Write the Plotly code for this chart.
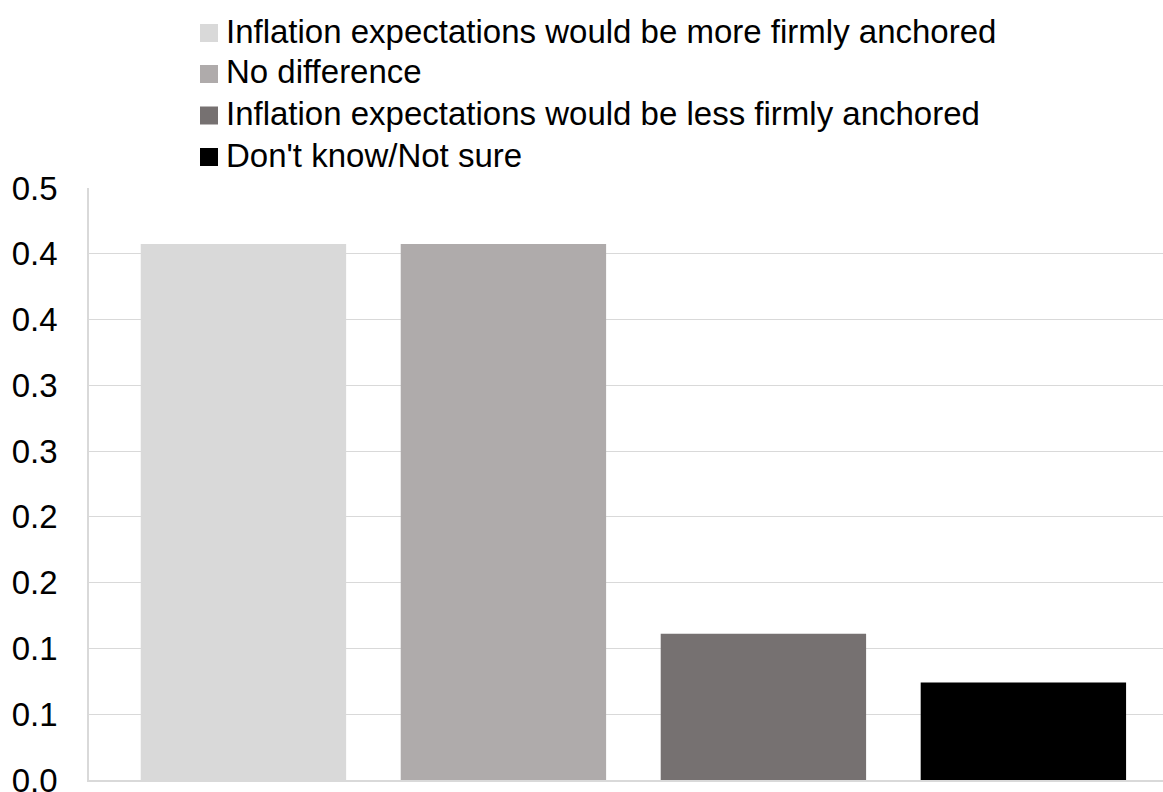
import plotly.graph_objects as go

# Survey responses (share of respondents)
categories = [
    "Inflation expectations would be more firmly anchored",
    "No difference",
    "Inflation expectations would be less firmly anchored",
    "Don't know/Not sure",
]
shares = [0.4074, 0.4074, 0.1111, 0.0741]
colors = ["#D9D9D9", "#AFABAB", "#767171", "#000000"]

tick_values = [0.0, 0.05, 0.10, 0.15, 0.20, 0.25, 0.30, 0.35, 0.40, 0.45]
tick_labels = ["0.0", "0.1", "0.1", "0.2", "0.2", "0.3", "0.3", "0.4", "0.4", "0.5"]

FONT = "Arial, 'Liberation Sans', sans-serif"

W, H = 1163, 792
ML, MR, MT, MB = 89, 0, 188, 12
plot_w = W - ML - MR
plot_h = H - MT - MB


def px_to_paper_x(px):
    return (px - ML) / plot_w


def px_to_paper_y(py):
    return (H - MB - py) / plot_h


fig = go.Figure()
for name, val, col in zip(categories, shares, colors):
    fig.add_trace(go.Bar(
        x=[name], y=[val], name=name,
        marker=dict(color=col, line=dict(width=0)),
        width=0.79, showlegend=False,
    ))

# Legend drawn as a stacked list of colour swatches with labels
row_centers = [33, 74, 115.5, 157]
swatch = 18
sw_left = 200
shapes = []
annotations = []
for name, col, cy in zip(categories, colors, row_centers):
    shapes.append(dict(
        type="rect", xref="paper", yref="paper",
        x0=px_to_paper_x(sw_left), x1=px_to_paper_x(sw_left + swatch),
        y0=px_to_paper_y(cy + swatch / 2), y1=px_to_paper_y(cy - swatch / 2),
        fillcolor=col, line=dict(width=0),
    ))
    annotations.append(dict(
        xref="paper", yref="paper",
        x=px_to_paper_x(224), y=px_to_paper_y(cy - 2),
        xanchor="left", yanchor="middle",
        text=name, showarrow=False,
        font=dict(family=FONT, size=33, color="black"),
    ))

fig.update_layout(
    width=W, height=H,
    margin=dict(l=ML, r=MR, t=MT, b=MB, autoexpand=False),
    paper_bgcolor="white", plot_bgcolor="white",
    barmode="overlay",
    font=dict(family=FONT, size=33, color="black"),
    showlegend=False,
    shapes=shapes,
    annotations=annotations,
    xaxis=dict(
        type="category",
        categoryorder="array", categoryarray=categories,
        range=[-0.594, 3.537],
        showticklabels=False, ticks="",
        showgrid=False, zeroline=False,
        showline=True, linecolor="#D9D9D9", linewidth=1.5,
    ),
    yaxis=dict(
        range=[0, 0.45],
        tickvals=tick_values, ticktext=tick_labels,
        showgrid=True, gridcolor="#D9D9D9", gridwidth=1.3,
        zeroline=False,
        showline=True, linecolor="#D9D9D9", linewidth=1.5,
        ticks="", ticklabelstandoff=23,
        ticklabeloverflow="allow",
        tickfont=dict(family=FONT, size=33, color="black"),
    ),
)

fig.write_html("out.html")
